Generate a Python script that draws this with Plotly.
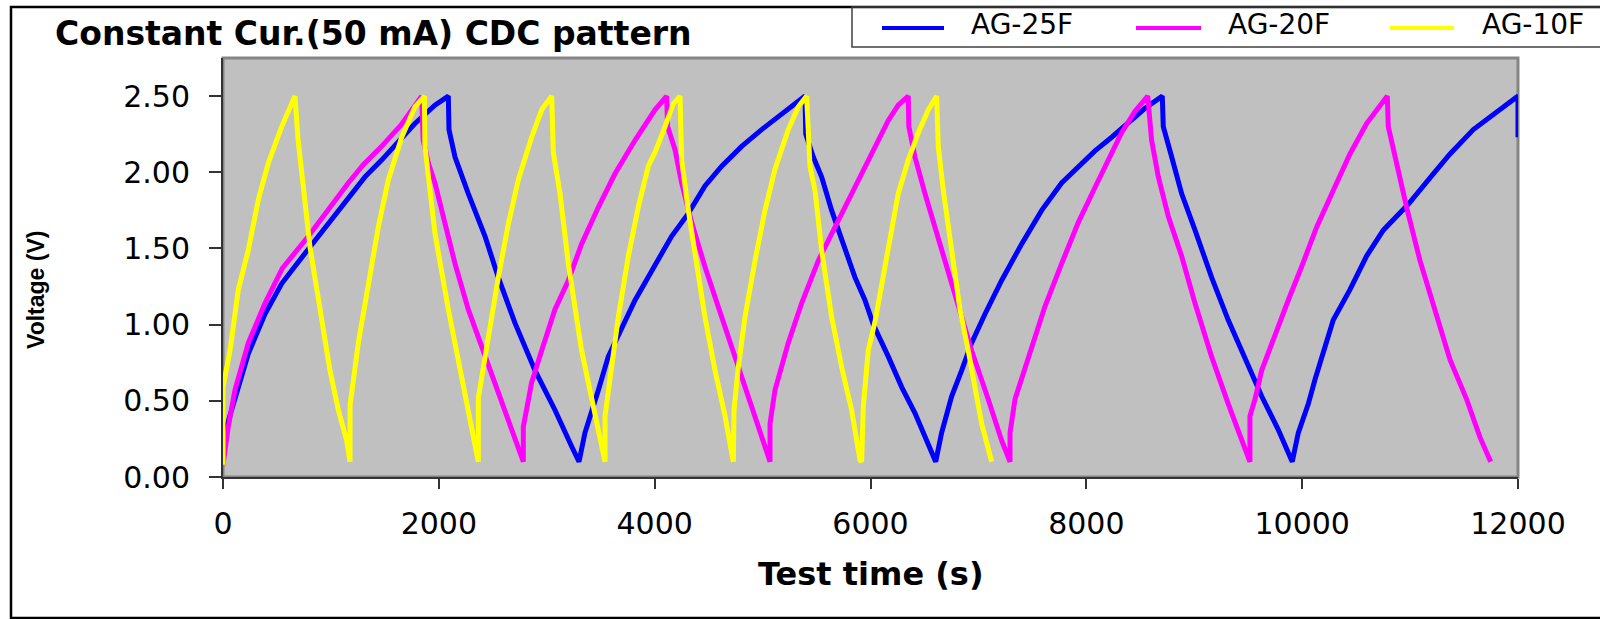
import plotly.graph_objects as go

# ---------------- data ----------------
t_25 = [0, 49, 235, 389, 544, 806, 1007, 1161, 1316, 1470, 1656, 1779, 1964, 2088,
        2094, 2150, 2273, 2428, 2551, 2706, 2891, 3076, 3231, 3299,
        3354, 3416, 3478, 3570, 3694, 3818, 4003, 4157, 4312, 4466, 4621, 4806, 4991, 5177, 5300, 5393,
        5400, 5470, 5547, 5640, 5733, 5856, 5949, 6026, 6165, 6289, 6412, 6536, 6604,
        6659, 6752, 6845, 6937, 7061, 7215, 7401, 7586, 7771, 7957, 8080, 8235, 8389, 8543, 8704,
        8713, 8791, 8883, 9007, 9161, 9315, 9470, 9625, 9779, 9908,
        9964, 10057, 10119, 10288, 10443, 10597, 10752, 10983, 11215, 11370, 11586, 11771, 11988, 12000, 12000]
v_25 = [0.25, 0.37, 0.81, 1.07, 1.27, 1.51, 1.69, 1.84, 1.97, 2.08, 2.23, 2.32, 2.44, 2.50,
        2.28, 2.10, 1.86, 1.58, 1.31, 1.01, 0.70, 0.44, 0.20, 0.10,
        0.29, 0.42, 0.57, 0.79, 0.97, 1.16, 1.39, 1.58, 1.73, 1.91, 2.04, 2.17, 2.28, 2.38, 2.44, 2.50,
        2.25, 2.10, 1.97, 1.75, 1.56, 1.31, 1.16, 1.00, 0.79, 0.59, 0.42, 0.22, 0.10,
        0.29, 0.53, 0.70, 0.88, 1.07, 1.29, 1.53, 1.75, 1.93, 2.06, 2.14, 2.23, 2.33, 2.42, 2.50,
        2.30, 2.10, 1.86, 1.62, 1.31, 1.03, 0.77, 0.53, 0.31, 0.10,
        0.29, 0.48, 0.64, 1.03, 1.23, 1.45, 1.62, 1.79, 1.99, 2.12, 2.28, 2.38, 2.49, 2.50, 2.23]

t_20 = [0, 49, 111, 235, 389, 550, 791, 1000, 1161, 1300, 1470, 1650, 1779, 1841,
        1855, 1903, 1964, 2057, 2150, 2273, 2428, 2582, 2706, 2783,
        2783, 2860, 2953, 3076, 3200, 3323, 3478, 3632, 3818, 4003, 4111,
        4120, 4188, 4250, 4343, 4466, 4621, 4775, 4930, 5069,
        5069, 5115, 5238, 5362, 5516, 5671, 5856, 6042, 6165, 6257, 6350,
        6355, 6412, 6505, 6628, 6783, 6937, 7091, 7215, 7293,
        7293, 7339, 7462, 7617, 7771, 7925, 8080, 8203, 8327, 8451, 8569,
        8605, 8667, 8760, 8883, 9007, 9161, 9315, 9439, 9516,
        9516, 9563, 9625, 9748, 9871, 9995, 10134, 10288, 10443, 10597, 10721, 10789,
        10798, 10876, 10968, 11092, 11215, 11370, 11524, 11648, 11747]
v_20 = [0.08, 0.33, 0.57, 0.88, 1.14, 1.37, 1.58, 1.78, 1.93, 2.05, 2.17, 2.31, 2.43, 2.50,
        2.21, 2.06, 1.93, 1.67, 1.40, 1.10, 0.79, 0.48, 0.24, 0.10,
        0.33, 0.62, 0.83, 1.10, 1.29, 1.53, 1.77, 1.99, 2.21, 2.41, 2.50,
        2.30, 2.15, 1.93, 1.67, 1.38, 1.05, 0.72, 0.40, 0.10,
        0.35, 0.57, 0.88, 1.14, 1.42, 1.64, 1.91, 2.16, 2.34, 2.44, 2.50,
        2.30, 2.10, 1.86, 1.56, 1.18, 0.83, 0.51, 0.24, 0.10,
        0.29, 0.51, 0.79, 1.12, 1.40, 1.67, 1.90, 2.08, 2.26, 2.40, 2.50,
        2.21, 1.97, 1.71, 1.45, 1.14, 0.79, 0.48, 0.24, 0.10,
        0.40, 0.51, 0.70, 0.94, 1.16, 1.38, 1.64, 1.88, 2.12, 2.32, 2.43, 2.50,
        2.30, 2.04, 1.77, 1.42, 1.12, 0.77, 0.51, 0.26, 0.10]

t_10 = [0, 0, 65, 142, 235, 327, 420, 544, 667,
        695, 806, 914, 991, 1069, 1146, 1177,
        1177, 1254, 1347, 1439, 1532, 1656, 1779, 1866,
        1871, 1903, 1964, 2088, 2180, 2273, 2366,
        2366, 2459, 2551, 2644, 2736, 2860, 2953, 3046,
        3061, 3123, 3200, 3323, 3447, 3540,
        3540, 3601, 3663, 3756, 3848, 3941, 4003, 4096, 4173, 4235,
        4250, 4312, 4389, 4466, 4559, 4652, 4729,
        4735, 4775, 4837, 4930, 5022, 5115, 5238, 5331, 5408,
        5439, 5486, 5547, 5640, 5733, 5825, 5903, 5918,
        5933, 5979, 6042, 6103, 6165, 6257, 6350, 6443, 6536, 6613,
        6628, 6675, 6752, 6829, 6906, 6968, 7030, 7123]
v_10 = [0.08, 0.59, 0.83, 1.23, 1.49, 1.82, 2.06, 2.30, 2.50,
        2.22, 1.51, 1.05, 0.70, 0.44, 0.24, 0.10,
        0.47, 0.88, 1.27, 1.64, 1.95, 2.23, 2.43, 2.50,
        2.17, 1.99, 1.60, 1.10, 0.77, 0.44, 0.10,
        0.52, 0.94, 1.31, 1.66, 1.95, 2.23, 2.41, 2.50,
        2.13, 1.86, 1.40, 0.83, 0.40, 0.10,
        0.40, 0.72, 1.05, 1.45, 1.77, 2.04, 2.13, 2.30, 2.45, 2.50,
        2.08, 1.75, 1.40, 1.05, 0.70, 0.40, 0.10,
        0.44, 0.72, 1.05, 1.42, 1.75, 2.02, 2.28, 2.43, 2.50,
        2.04, 1.88, 1.49, 1.05, 0.72, 0.44, 0.11, 0.10,
        0.46, 0.83, 1.02, 1.27, 1.53, 1.86, 2.08, 2.26, 2.41, 2.50,
        2.17, 1.88, 1.49, 1.10, 0.83, 0.59, 0.35, 0.10]

series_names = ["AG-25F", "AG-20F", "AG-10F"]
series_colors = ["#0000FF", "#FF00FF", "#FFFF00"]
x_ticks = [0, 2000, 4000, 6000, 8000, 10000, 12000]
y_ticks = [0.0, 0.5, 1.0, 1.5, 2.0, 2.5]

# ---------------- figure ----------------
W, H = 1600, 619
L, R, T, B = 223, 82, 58, 142
pw, ph = W - L - R, H - T - B


def px(x):
    return (x - L) / pw


def py(y):
    return (H - B - y) / ph


fig = go.Figure()
for name, t, v, c in zip(series_names, [t_25, t_20, t_10], [v_25, v_20, v_10], series_colors):
    fig.add_trace(go.Scatter(x=t, y=v, mode="lines", name=name,
                             line=dict(color=c, width=5), showlegend=False))

tickfont = dict(family="DejaVu Sans", size=30, color="black")
fig.update_layout(
    template="none",
    width=W, height=H,
    margin=dict(l=L, r=R, t=T, b=B, pad=0),
    paper_bgcolor="white",
    plot_bgcolor="#C0C0C0",
    showlegend=False,
    xaxis=dict(range=[0, 12000], tickvals=x_ticks, tickformat="d", ticks="outside",
               ticklen=10, tickwidth=1.5, tickcolor="#333333", showline=True,
               linecolor="#333333", linewidth=2, showgrid=False, zeroline=False,
               tickfont=tickfont, ticklabelstandoff=9, automargin=False),
    yaxis=dict(range=[0, 2.75], tickvals=y_ticks, tickformat=".2f", ticks="outside",
               ticklen=12, tickwidth=1.5, tickcolor="#333333", showline=True,
               linecolor="#333333", linewidth=2, showgrid=False, zeroline=False,
               tickfont=tickfont, ticklabelstandoff=13, automargin=False),
)

shapes = [
    # plot-area border (grey top/right)
    dict(type="rect", xref="paper", yref="paper", x0=0, x1=1, y0=0, y1=1,
         line=dict(color="#858585", width=3), layer="below"),
    # outer chart frame
    dict(type="rect", xref="paper", yref="paper", x0=px(11), x1=px(1610), y0=py(618), y1=py(7),
         line=dict(color="black", width=2.5)),
    # legend box
    dict(type="rect", xref="paper", yref="paper", x0=px(852), x1=px(1610), y0=py(47), y1=py(7),
         line=dict(color="#404040", width=1.5)),
]
leg_x = [(882, 944, 969), (1136, 1201, 1226), (1390, 1454, 1480)]
annotations = []
for (x0, x1, xt), name, c in zip(leg_x, series_names, series_colors):
    shapes.append(dict(type="line", xref="paper", yref="paper", x0=px(x0), x1=px(x1),
                       y0=py(28), y1=py(28), line=dict(color=c, width=4)))
    annotations.append(dict(text=name, xref="paper", yref="paper", x=px(xt), y=py(24),
                            xanchor="left", yanchor="middle", showarrow=False,
                            font=dict(family="DejaVu Sans", size=28, color="black")))

annotations += [
    dict(text="<b>Constant Cur.(50 mA) CDC pattern</b>", xref="paper", yref="paper",
         x=px(53), y=py(34), xanchor="left", yanchor="middle", showarrow=False,
         font=dict(family="DejaVu Sans", size=33, color="black")),
    dict(text="<b>Test time (s)</b>", xref="paper", yref="paper",
         x=0.5, y=py(574), xanchor="center", yanchor="middle", showarrow=False,
         font=dict(family="DejaVu Sans", size=32, color="black")),
    dict(text="<b>Voltage (V)</b>", xref="paper", yref="paper", textangle=-90,
         x=px(36), y=py(290), xanchor="center", yanchor="middle", showarrow=False,
         font=dict(family="Liberation Sans", size=23, color="black")),
]
fig.update_layout(shapes=shapes, annotations=annotations)

fig.write_html("out.html")
